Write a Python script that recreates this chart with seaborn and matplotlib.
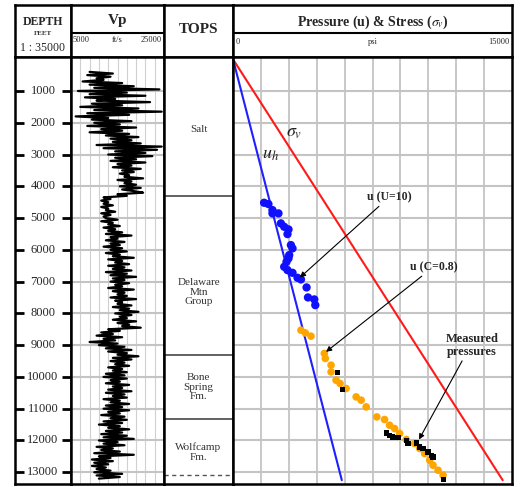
import numpy as np
import pandas as pd
import matplotlib.pyplot as plt
import seaborn as sns

sns.set_style("white")
plt.rcParams['font.family'] = ['Liberation Serif', 'DejaVu Serif']
plt.rcParams['mathtext.fontset'] = 'stix'

# ---------------- data ----------------
depth_ticks = [1000, 2000, 3000, 4000, 5000, 6000, 7000, 8000, 9000, 10000, 11000, 12000, 13000]

# Vp log (x1000 ft/s), sampled every 50 ft from 400 to 13200 ft
vp_depth = np.arange(400, 13201, 50)
vp_kfts = [
    9.0, 14.0, 8.5, 13.5, 10.5, 12.0, 7.5, 16.0, 9.0, 18.5, 10.0, 24.0,
    6.5, 17.0, 9.0, 21.0, 8.0, 14.5, 10.5, 22.0, 9.5, 16.0, 7.0, 19.5, 10.0, 24.5, 8.5, 17.5, 6.0, 13.0, 9.5, 18.0,
    10.0, 15.5, 8.5, 19.0, 11.5, 16.0, 9.0, 17.5, 12.5, 19.5, 13.5, 18.0, 14.0, 20.0, 10.5, 24.5, 12.0, 23.5, 14.5, 21.0,
    13.0, 22.5, 14.5, 19.0, 13.5, 21.0, 15.0, 18.0, 14.0, 20.0, 16.0, 18.5, 15.5, 17.5, 16.5, 20.5, 15.0, 18.0, 16.5, 19.0,
    15.5, 20.0, 16.0, 18.5, 20.5, 15.0, 17.0, 12.0, 13.5, 11.5, 13.0, 12.0, 14.0, 11.5, 13.0, 12.5, 14.5, 11.5, 13.5, 12.0,
    12.5, 15.0, 11.5, 14.0, 13.0, 15.5, 12.0, 14.5, 13.0, 16.0, 12.5, 18.0, 13.5, 15.0, 12.5, 16.5, 13.5, 15.5, 12.0, 16.0,
    13.5, 17.0, 12.5, 15.5, 14.0, 18.5, 13.0, 16.0, 14.5, 17.5, 13.0, 16.5, 14.0, 18.0, 12.5, 17.0, 13.5, 19.0, 14.0, 16.5,
    13.5, 17.5, 14.5, 16.0, 13.0, 18.5, 14.0, 16.5, 15.0, 17.0, 13.5, 19.0, 14.5, 16.0, 15.0, 18.0, 14.0, 17.5, 15.5, 19.5,
    14.5, 18.0, 15.5, 17.0, 14.0, 19.0, 15.0, 17.5, 16.0, 20.0, 13.0, 15.5, 11.5, 14.0, 10.5, 16.0, 12.0, 14.5, 9.0, 15.0,
    11.0, 16.5, 12.5, 18.0, 13.0, 17.0, 15.0, 19.5, 14.0, 18.0, 13.5, 16.5, 14.5, 17.5, 13.0, 16.0, 14.0, 17.0, 12.5, 16.5,
    12.0, 17.0, 13.5, 15.5, 12.5, 17.5, 14.0, 16.0, 13.0, 18.0, 12.5, 16.5, 14.0, 17.0, 12.0, 15.5, 13.5, 17.5, 12.5, 16.0,
    12.0, 17.5, 13.0, 15.5, 11.5, 16.5, 13.5, 17.0, 12.0, 16.0, 11.0, 15.5, 13.0, 17.5, 12.5, 16.0, 11.5, 17.0, 12.0, 18.5,
    11.0, 15.0, 12.0, 16.5, 10.5, 14.0, 11.5, 15.5, 10.0, 18.5, 11.0, 13.5, 9.5, 14.0, 10.0, 13.0, 9.5, 12.5, 10.5, 13.5,
    10.0, 16.0, 10.5, 15.5, 11.0,
]

# formation tops
top_bounds = [4300, 9300, 11330]
top_base = 13100
top_names = ["Salt", "Delaware\nMtn\nGroup", "Bone\nSpring\nFm.", "Wolfcamp\nFm."]
top_label_depth = [2200, 7330, 10320, 12370]

# trend lines (psi vs ft)
line_depth = [0, 13250]
sv_psi = [0, 14500]
uh_psi = [0, 5850]

# pore pressure estimate, U = 10 (sonic)
u10_psi = [1673, 1905, 2121, 2121, 2444, 2574, 2752, 2984, 2930, 3113, 3200, 3022,
           2984, 2876, 2752, 2930, 3200, 3470, 3653, 3955, 4031, 4371, 4425]
u10_depth = [4518, 4559, 4748, 4852, 4852, 5167, 5274, 5356, 5504, 5850, 5954, 6165,
             6269, 6376, 6534, 6638, 6723, 6880, 6931, 7183, 7498, 7560, 7740]

# pore pressure estimate, C = 0.8
c08_psi = [3653, 3885, 4193, 4910, 4964, 5272, 5272, 5542, 5758, 6081, 6621, 6891, 7161,
           7733, 8148, 8418, 8688, 8958, 9319, 9767, 10037, 10306, 10576, 10754, 11024, 11294]
c08_depth = [8528, 8613, 8717, 9261, 9419, 9630, 9841, 10103, 10206, 10364, 10628, 10732, 10943,
             11258, 11340, 11520, 11624, 11781, 11970, 12096, 12253, 12411, 12622, 12779, 12937, 13094]

# measured pressures
meas_psi = [5628, 5898, 8272, 8418, 8596, 8866, 9319, 9405, 9859, 10037, 10214, 10484, 10668, 10754, 11330]
meas_depth = [9872, 10395, 11762, 11835, 11888, 11907, 11992, 12096, 12077, 12203, 12254, 12361, 12465, 12518, 13230]

# ---------------- layout ----------------
W, H = 525, 487
fig = plt.figure(figsize=(W / 100, H / 100), dpi=100)


def box(x0, y0, x1, y1):
    return [x0 / W, 1 - y1 / H, (x1 - x0) / W, (y1 - y0) / H]


cols = {'depth': (15, 71), 'vp': (71, 164), 'tops': (164, 233), 'press': (233, 512)}
HY0, HY1, DY1 = 5, 57, 484
YLIM = (13370, -70)
GRID = '#c4c4c4'


def frame(ax, lw=1.8):
    for s in ax.spines.values():
        s.set_visible(True)
        s.set_color('black')
        s.set_linewidth(lw)
    ax.set_xticks([])
    ax.set_yticks([])


# headers
hax = {}
for k, (x0, x1) in cols.items():
    a = fig.add_axes(box(x0, HY0, x1, HY1))
    frame(a)
    a.set_xlim(0, 1)
    a.set_ylim(1, 0)
    hax[k] = a

sub = (33 - HY0) / (HY1 - HY0)
hax['depth'].text(0.5, 0.33, "DEPTH", ha='center', va='center', fontsize=8.5, fontweight='bold')
hax['depth'].text(0.5, 0.55, "FEET", ha='center', va='center', fontsize=5, fontweight='bold', color='#333333')
hax['depth'].text(0.5, 0.82, "1 : 35000", ha='center', va='center', fontsize=8.5)

hax['vp'].axhline(sub, color='black', lw=1.5)
hax['vp'].text(0.5, 0.3, "Vp", ha='center', va='center', fontsize=11, fontweight='bold')
hax['vp'].text(0.02, 0.68, "5000", ha='left', va='center', fontsize=6)
hax['vp'].text(0.5, 0.68, "ft/s", ha='center', va='center', fontsize=6)
hax['vp'].text(0.98, 0.68, "25000", ha='right', va='center', fontsize=6)

hax['tops'].text(0.5, 0.48, "TOPS", ha='center', va='center', fontsize=11, fontweight='bold')

hax['press'].axhline(sub, color='black', lw=1.5)
hax['press'].text(0.5, 0.33, r"Pressure (u) & Stress ($\sigma_v$)", ha='center', va='center',
                  fontsize=10, fontweight='bold')
hax['press'].text(0.01, 0.72, "0", ha='left', va='center', fontsize=6)
hax['press'].text(0.5, 0.72, "psi", ha='center', va='center', fontsize=6)
hax['press'].text(0.99, 0.72, "15000", ha='right', va='center', fontsize=6)

# depth track
ax_d = fig.add_axes(box(15, HY1, 71, DY1))
frame(ax_d)
ax_d.set_ylim(*YLIM)
ax_d.set_xlim(0, 1)
ax_d.set_yticks(depth_ticks)
ax_d.set_yticklabels([])
ax_d.tick_params(axis='y', left=True, right=True, direction='in', length=6.5, width=2, color='black')
for d in depth_ticks:
    ax_d.text(0.5, d, f"{d}", ha='center', va='center', fontsize=9)

# Vp track
ax_v = fig.add_axes(box(71, HY1, 164, DY1))
frame(ax_v)
ax_v.set_xlim(5000, 25000)
ax_v.set_ylim(*YLIM)
for x in range(7000, 25000, 2000):
    ax_v.axvline(x, color='#d0d0d0', lw=0.8, zorder=0)
for d in depth_ticks:
    ax_v.axhline(d, color=GRID, lw=1.5, zorder=0)
ax_v.plot(np.array(vp_kfts) * 1000, vp_depth, color='black', lw=1.6, zorder=2)

# tops track
ax_t = fig.add_axes(box(164, HY1, 233, DY1))
frame(ax_t)
ax_t.set_xlim(0, 1)
ax_t.set_ylim(*YLIM)
for d in top_bounds:
    ax_t.axhline(d, color='#555555', lw=1.3)
ax_t.axhline(top_base, color='#555555', lw=1.0, ls=(0, (3, 2.5)))
for name, d in zip(top_names, top_label_depth):
    ax_t.text(0.5, d, name, ha='center', va='center', fontsize=8, color='#333333', linespacing=1.05)

# pressure track
ax_p = fig.add_axes(box(233, HY1, 512, DY1))
frame(ax_p)
ax_p.set_xlim(0, 15000)
ax_p.set_ylim(*YLIM)
for x in range(1500, 15000, 1500):
    ax_p.axvline(x, color=GRID, lw=1.3, zorder=0)
for d in depth_ticks:
    ax_p.axhline(d, color=GRID, lw=1.5, zorder=0)

sns.lineplot(x=sv_psi, y=line_depth, ax=ax_p, color='#ff1a1a', lw=1.5, sort=False, zorder=2)
sns.lineplot(x=uh_psi, y=line_depth, ax=ax_p, color='#1f1fff', lw=1.5, sort=False, zorder=2)

sns.scatterplot(x=u10_psi, y=u10_depth, ax=ax_p, color='#1010ff', s=36, edgecolor='none', zorder=3)
sns.scatterplot(x=c08_psi, y=c08_depth, ax=ax_p, color='#ffa500', s=30, edgecolor='none', zorder=3)
sns.scatterplot(x=meas_psi, y=meas_depth, ax=ax_p, color='black', marker='s', s=14, edgecolor='none', zorder=4)
ax_p.set_xlim(0, 15000)
ax_p.set_ylim(*YLIM)
ax_p.set_xlabel('')
ax_p.set_ylabel('')
ax_p.set_xticks([])
ax_p.set_yticks([])

ax_p.text(3291, 2292, r"$\sigma_v$", ha='center', va='center', fontsize=13, color='#222222')
ax_p.text(1997, 2985, r"$u_h$", ha='center', va='center', fontsize=13, color='#222222')

arrow = dict(arrowstyle='-|>', color='black', lw=0.8, mutation_scale=8, shrinkA=0, shrinkB=0)
ax_p.annotate("u (U=10)", xy=(3600, 6870), xytext=(7200, 4339), ha='left', va='center',
              fontsize=8.5, fontweight='bold', arrowprops=arrow)
ax_p.annotate("u (C=0.8)", xy=(5002, 9211), xytext=(9500, 6537), ha='left', va='center',
              fontsize=8.5, fontweight='bold', arrowprops=arrow)
ax_p.annotate("Measured\npressures", xy=(10000, 11970), xytext=(12842, 9000), ha='center', va='center',
              fontsize=9, fontweight='bold', linespacing=1.1,
              arrowprops=dict(arrow, relpos=(0.35, 0.0)))

fig.savefig("out.png", dpi=100)
